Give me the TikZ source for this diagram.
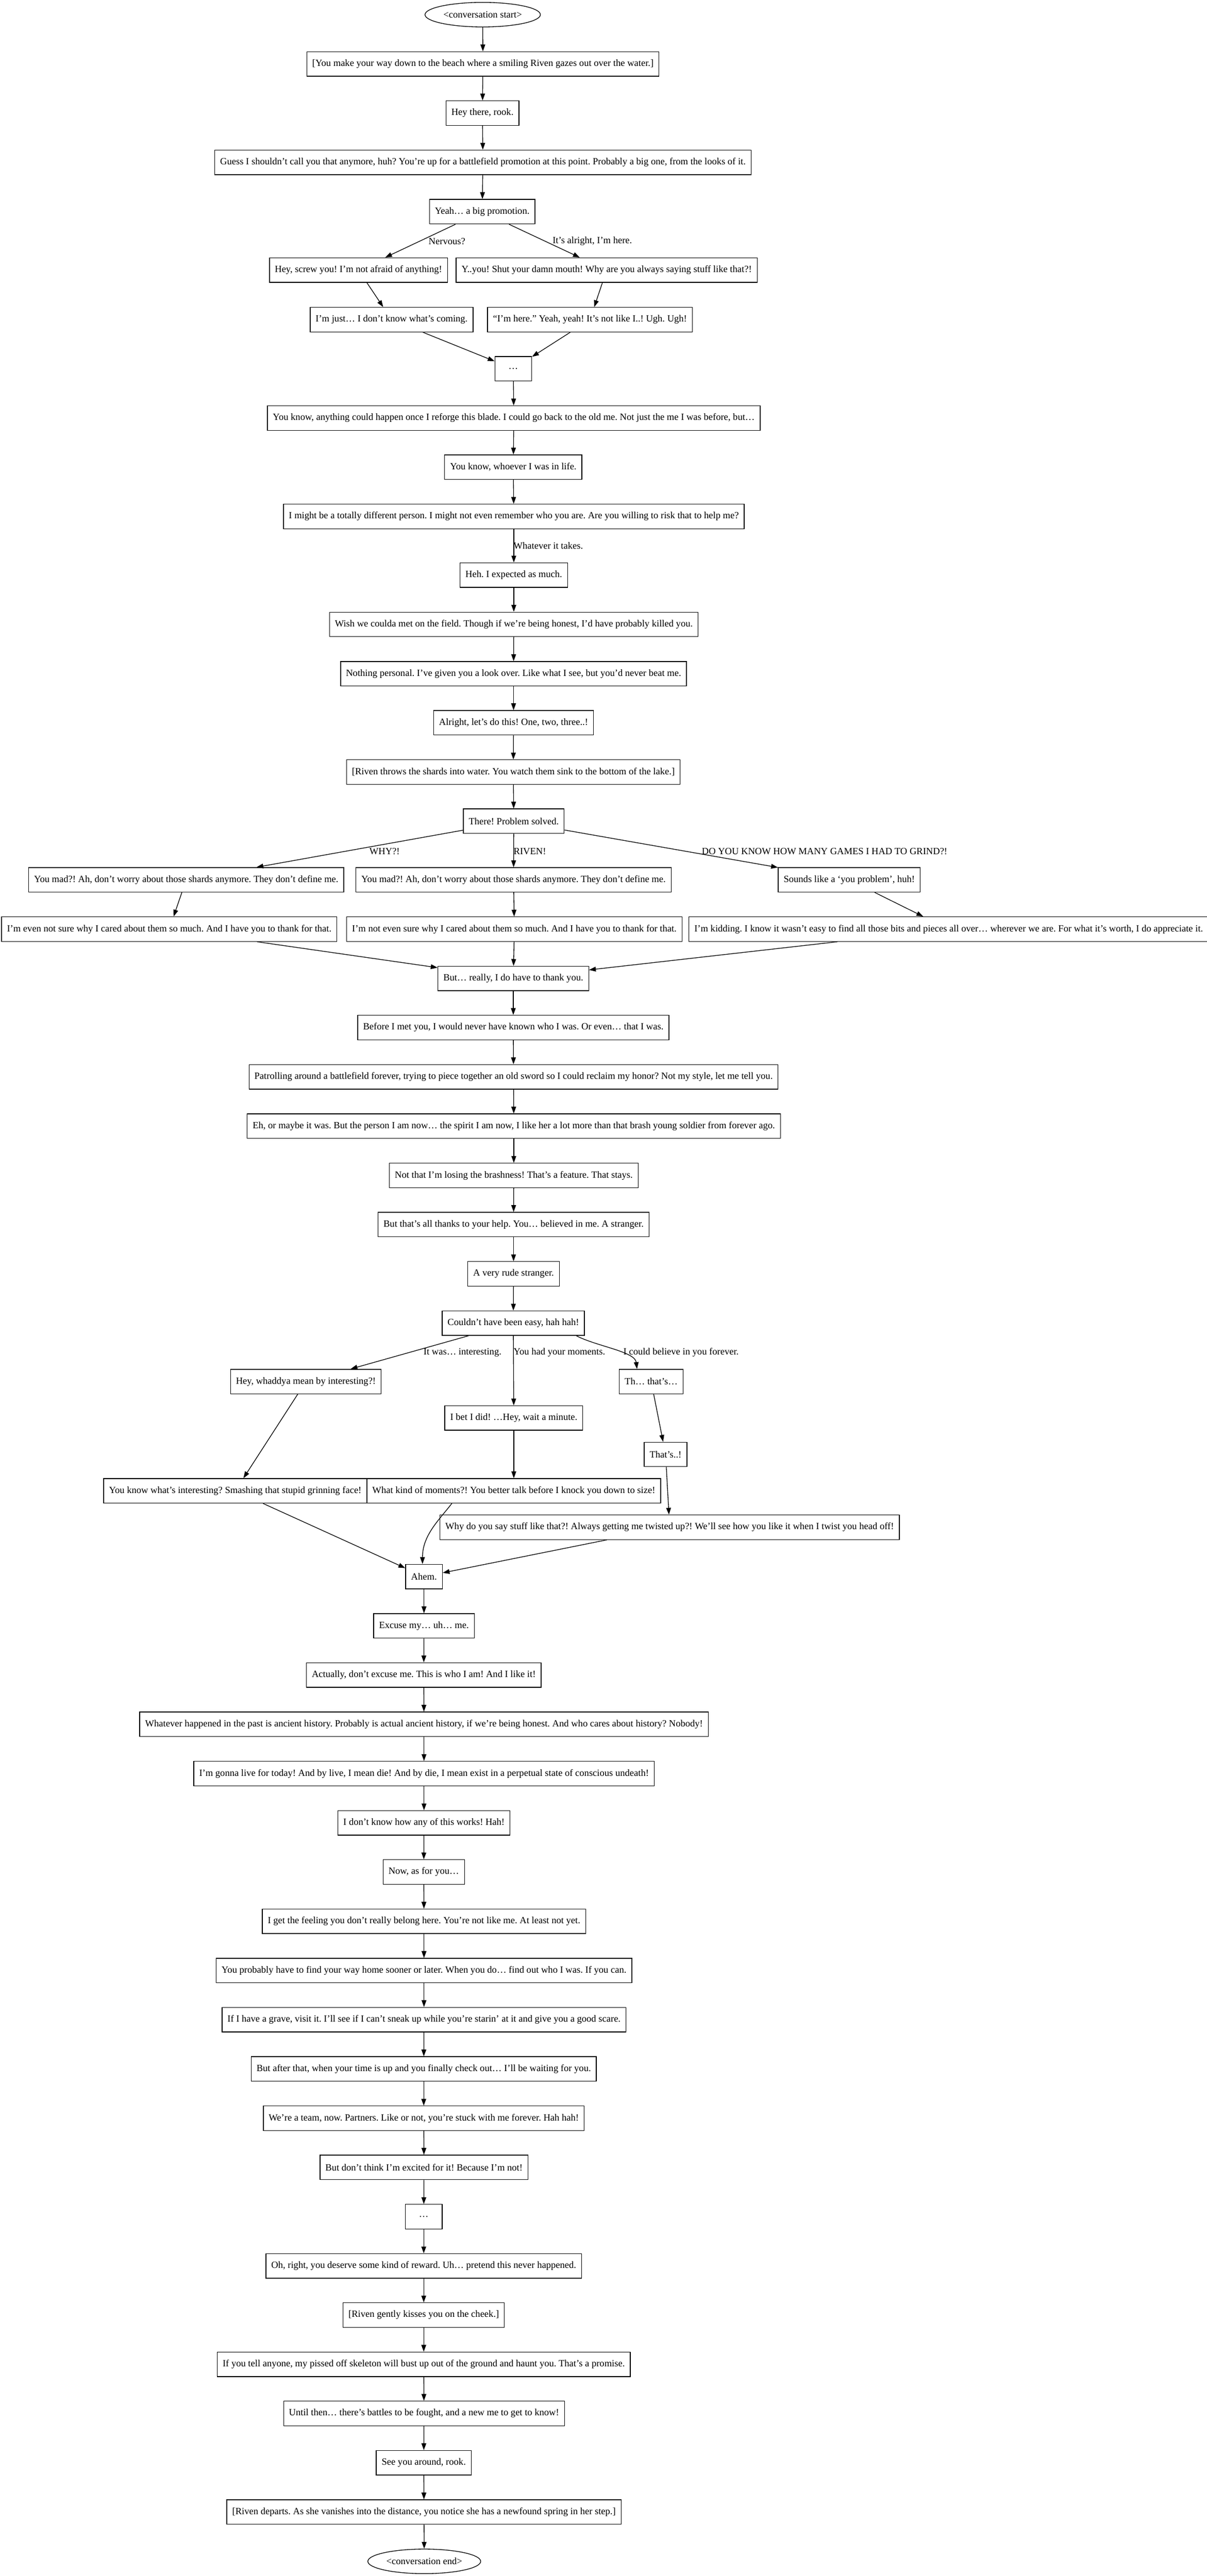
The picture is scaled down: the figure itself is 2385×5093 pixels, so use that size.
\documentclass[tikz,border=0pt]{standalone}
\usepackage{fontspec}
\setmainfont{Liberation Serif}
\usetikzlibrary{arrows.meta,shapes.geometric}
\frenchspacing
\begin{document}
\frenchspacing
\begin{tikzpicture}[x=1pt,y=-1pt,
  every node/.style={font=\fontsize{18.9}{22}\selectfont\frenchspacing},
  box/.style={draw, line width=1.35pt, rectangle, minimum height=48.5pt, minimum width=72.7pt, inner xsep=10.7pt, inner ysep=0pt},
  oval/.style={draw, line width=1.35pt, ellipse, minimum height=48.5pt, inner sep=0pt},
  lbl/.style={anchor=west, inner sep=0pt},
  arr/.style={draw, line width=1.35pt, -{Triangle[length=13.5pt,width=9.4pt]}}
]
\useasboundingbox (0,0) rectangle (2385,5093);
\node[oval, minimum width=228pt] (n1) at (954,29) {\textless conversation start\textgreater};
\node[box] (n2) at (954.5,126.5) {[You make your way down to the beach where a smiling Riven gazes out over the water.]};
\node[box] (n3) at (953.5,223.5) {Hey there, rook.};
\node[box] (n4) at (954.5,321) {Guess I shouldn’t call you that anymore, huh? You’re up for a battlefield promotion at this point. Probably a big one, from the looks of it.};
\node[box] (n5) at (953,418.5) {Yeah… a big promotion.};
\node[box] (n6) at (708.5,534) {Hey, screw you! I’m not afraid of anything!};
\node[box] (n7) at (1199,534) {Y..you! Shut your damn mouth! Why are you always saying stuff like that?!};
\node[box] (n8) at (774,632) {I’m just… I don’t know what’s coming.};
\node[box] (n9) at (1166,632) {“I’m here.” Yeah, yeah! It’s not like I..! Ugh. Ugh!};
\node[box] (n10) at (1014.5,729) {…};
\node[box] (n11) at (1015.5,826.5) {You know, anything could happen once I reforge this blade. I could go back to the old me. Not just the me I was before, but…};
\node[box] (n12) at (1014.5,923.5) {You know, whoever I was in life.};
\node[box] (n13) at (1015.5,1021) {I might be a totally different person. I might not even remember who you are. Are you willing to risk that to help me?};
\node[box] (n14) at (1015.5,1137) {Heh. I expected as much.};
\node[box] (n15) at (1015.5,1234.5) {Wish we coulda met on the field. Though if we’re being honest, I’d have probably killed you.};
\node[box] (n16) at (1015,1332) {Nothing personal. I’ve given you a look over. Like what I see, but you’d never beat me.};
\node[box] (n17) at (1015,1429) {Alright, let’s do this! One, two, three..!};
\node[box] (n18) at (1014.5,1526.5) {[Riven throws the shards into water. You watch them sink to the bottom of the lake.]};
\node[box] (n19) at (1015.5,1623.5) {There! Problem solved.};
\node[box] (n20) at (368,1739.5) {You mad?! Ah, don’t worry about those shards anymore. They don’t define me.};
\node[box] (n21) at (1015,1739.5) {You mad?! Ah, don’t worry about those shards anymore. They don’t define me.};
\node[box] (n22) at (1678.5,1739.5) {Sounds like a ‘you problem’, huh!};
\node[box] (n23) at (334.5,1837) {I’m even not sure why I cared about them so much. And I have you to thank for that.};
\node[box] (n24) at (1016.5,1837) {I’m not even sure why I cared about them so much. And I have you to thank for that.};
\node[box] (n25) at (1875,1837) {I’m kidding. I know it wasn’t easy to find all those bits and pieces all over… wherever we are. For what it’s worth, I do appreciate it.};
\node[box] (n26) at (1014.5,1934.5) {But… really, I do have to thank you.};
\node[box] (n27) at (1014.5,2031.5) {Before I met you, I would never have known who I was. Or even… that I was.};
\node[box] (n28) at (1015,2129) {Patrolling around a battlefield forever, trying to piece together an old sword so I could reclaim my honor? Not my style, let me tell you.};
\node[box] (n29) at (1015.5,2226.5) {Eh, or maybe it was. But the person I am now… the spirit I am now, I like her a lot more than that brash young soldier from forever ago.};
\node[box] (n30) at (1015.5,2324) {Not that I’m losing the brashness! That’s a feature. That stays.};
\node[box] (n31) at (1015,2421) {But that’s all thanks to your help. You… believed in me. A stranger.};
\node[box] (n32) at (1015,2518.5) {A very rude stranger.};
\node[box] (n33) at (1014.5,2616) {Couldn’t have been easy, hah hah!};
\node[box] (n34) at (604.5,2731.5) {Hey, whaddya mean by interesting?!};
\node[box] (n35) at (1287,2731.5) {Th… that’s…};
\node[box] (n36) at (1015.5,2803.5) {I bet I did! …Hey, wait a minute.};
\node[box] (n37) at (1315.5,2875.5) {That’s..!};
\node[box] (n38) at (465,2947.5) {You know what’s interesting? Smashing that stupid grinning face!};
\node[box] (n39) at (1015.5,2947.5) {What kind of moments?! You better talk before I knock you down to size!};
\node[box] (n40) at (1323.5,3019.5) {Why do you say stuff like that?! Always getting me twisted up?! We’ll see how you like it when I twist you head off!};
\node[box] (n41) at (838,3117) {Ahem.};
\node[box] (n42) at (838,3214.5) {Excuse my… uh… me.};
\node[box] (n43) at (837.5,3311.5) {Actually, don’t excuse me. This is who I am! And I like it!};
\node[box] (n44) at (838,3409) {Whatever happened in the past is ancient history. Probably is actual ancient history, if we’re being honest. And who cares about history? Nobody!};
\node[box] (n45) at (838,3506.5) {I’m gonna live for today! And by live, I mean die! And by die, I mean exist in a perpetual state of conscious undeath!};
\node[box] (n46) at (838,3604) {I don’t know how any of this works! Hah!};
\node[box] (n47) at (837.5,3701) {Now, as for you…};
\node[box] (n48) at (838,3798.5) {I get the feeling you don’t really belong here. You’re not like me. At least not yet.};
\node[box] (n49) at (838,3896) {You probably have to find your way home sooner or later. When you do… find out who I was. If you can.};
\node[box] (n50) at (838,3993) {If I have a grave, visit it. I’ll see if I can’t sneak up while you’re starin’ at it and give you a good scare.};
\node[box] (n51) at (837.5,4090.5) {But after that, when your time is up and you finally check out… I’ll be waiting for you.};
\node[box] (n52) at (837.5,4188) {We’re a team, now. Partners. Like or not, you’re stuck with me forever. Hah hah!};
\node[box] (n53) at (838,4285) {But don’t think I’m excited for it! Because I’m not!};
\node[box] (n54) at (837.5,4382.5) {…};
\node[box] (n55) at (837.5,4480) {Oh, right, you deserve some kind of reward. Uh… pretend this never happened.};
\node[box] (n56) at (837.5,4577) {[Riven gently kisses you on the cheek.]};
\node[box] (n57) at (837.5,4674.5) {If you tell anyone, my pissed off skeleton will bust up out of the ground and haunt you. That’s a promise.};
\node[box] (n58) at (838,4771.5) {Until then… there’s battles to be fought, and a new me to get to know!};
\node[box] (n59) at (837.5,4869) {See you around, rook.};
\node[box] (n60) at (838,4966.5) {[Riven departs. As she vanishes into the distance, you notice she has a newfound spring in her step.]};
\node[oval, minimum width=223pt] (n61) at (838.5,5064) {\textless conversation end\textgreater};
% edge labels
\node[lbl] (l1) at (847,477) {Nervous?};
\node[lbl] (l2) at (1092,477) {It’s alright, I’m here.};
\node[lbl] (l3) at (1015,1079) {Whatever it takes.};
\node[lbl] (l4) at (730,1683) {WHY?!};
\node[lbl] (l5) at (1015,1683) {RIVEN!};
\node[lbl] (l6) at (1387,1683) {DO YOU KNOW HOW MANY GAMES I HAD TO GRIND?!};
\node[lbl] (l7) at (837,2674) {It was… interesting.};
\node[lbl] (l8) at (1015,2674) {You had your moments.};
\node[lbl] (l9) at (1232,2674) {I could believe in you forever.};
% edges
\foreach \a/\b in {1/2,2/3,3/4,4/5,5/6,5/7,6/8,7/9,8/10,9/10,10/11,11/12,12/13,13/14,14/15,15/16,16/17,17/18,18/19,19/20,19/21,19/22,20/23,21/24,22/25,23/26,24/26,25/26,26/27,27/28,28/29,29/30,30/31,31/32,32/33,33/34,33/36,34/38,35/37,36/39,37/40,38/41,40/41,41/42,42/43,43/44,44/45,45/46,46/47,47/48,48/49,49/50,50/51,51/52,52/53,53/54,54/55,55/56,56/57,57/58,58/59,59/60,60/61}
  \draw[arr] (n\a) -- (n\b);
\draw[arr] ([xshift=124.5pt]n33.south) .. controls (1180,2662) and (1255,2672) .. ([xshift=-28pt]n35.north);
\draw[arr] ([xshift=-122.5pt]n39.south) .. controls (868,3005) and (835,3035) .. ([xshift=-3pt]n41.north);
\end{tikzpicture}
\end{document}
